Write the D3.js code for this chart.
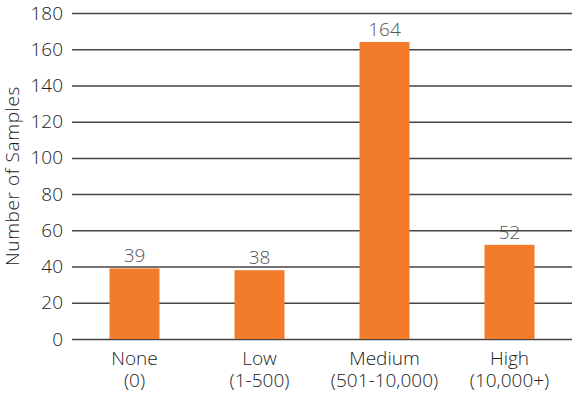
<!DOCTYPE html>
<meta charset="utf-8">
<style>
body { margin: 0; background: #fff; }
svg { font-family: "Open Sans", Lato, sans-serif; font-weight: 300; }
</style>
<svg width="575" height="396"></svg>
<script src="https://d3js.org/d3.v7.min.js"></script>
<script>

var categories = ["None", "Low", "Medium", "High"];
var ranges = ["(0)", "(1-500)", "(501-10,000)", "(10,000+)"];
var samples = [39, 38, 164, 52];
var yTicks = [0, 20, 40, 60, 80, 100, 120, 140, 160, 180];

var svg = d3.select("svg"),
    margin = {top: 13, right: 3, bottom: 57, left: 72},
    width = +svg.attr("width") - margin.left - margin.right,
    height = +svg.attr("height") - margin.top - margin.bottom;

var g = svg.append("g")
    .attr("transform", "translate(" + margin.left + "," + margin.top + ")");

var x = d3.scaleBand()
    .domain(categories)
    .range([0, width])
    .paddingInner(0.6)
    .paddingOuter(0.3);

var y = d3.scaleLinear()
    .domain([0, 180])
    .range([height, 0]);

// gridlines + tick labels
var yAxis = g.append("g")
    .call(d3.axisLeft(y).tickValues(yTicks).tickSize(-width).tickPadding(9));
yAxis.select(".domain").remove();
yAxis.selectAll("line").attr("stroke", "#444").attr("stroke-width", 1.5);
yAxis.selectAll("text")
    .attr("fill", "#222")
    .attr("font-size", "19px")
    .attr("font-family", "'Open Sans', sans-serif")
    .attr("font-weight", 300);

g.selectAll(".bar")
    .data(samples)
  .enter().append("rect")
    .attr("class", "bar")
    .attr("x", function(d, i) { return x(categories[i]); })
    .attr("y", function(d) { return y(d); })
    .attr("width", x.bandwidth())
    .attr("height", function(d) { return height - y(d); })
    .attr("fill", "#f37b2c");

g.selectAll(".val")
    .data(samples)
  .enter().append("text")
    .attr("class", "val")
    .attr("x", function(d, i) { return x(categories[i]) + x.bandwidth() / 2; })
    .attr("y", function(d) { return y(d) - 6; })
    .attr("text-anchor", "middle")
    .attr("font-size", "19px")
    .attr("fill", "#555")
    .text(function(d) { return d; });

// category labels, two lines
var lab = g.selectAll(".cat")
    .data(categories)
  .enter().append("text")
    .attr("class", "cat")
    .attr("text-anchor", "middle")
    .attr("font-size", "19px")
    .attr("fill", "#222")
    .attr("transform", function(d) { return "translate(" + (x(d) + x.bandwidth() / 2) + "," + height + ")"; });
lab.append("tspan").attr("x", 0).attr("y", 26).text(function(d) { return d; });
lab.append("tspan").attr("x", 0).attr("y", 48).text(function(d, i) { return ranges[i]; });

svg.append("text")
    .attr("transform", "translate(19," + (margin.top + height / 2) + ") rotate(-90)")
    .attr("text-anchor", "middle")
    .attr("font-size", "19px")
    .attr("letter-spacing", "0.6px")
    .attr("fill", "#222")
    .text("Number of Samples");

</script>
